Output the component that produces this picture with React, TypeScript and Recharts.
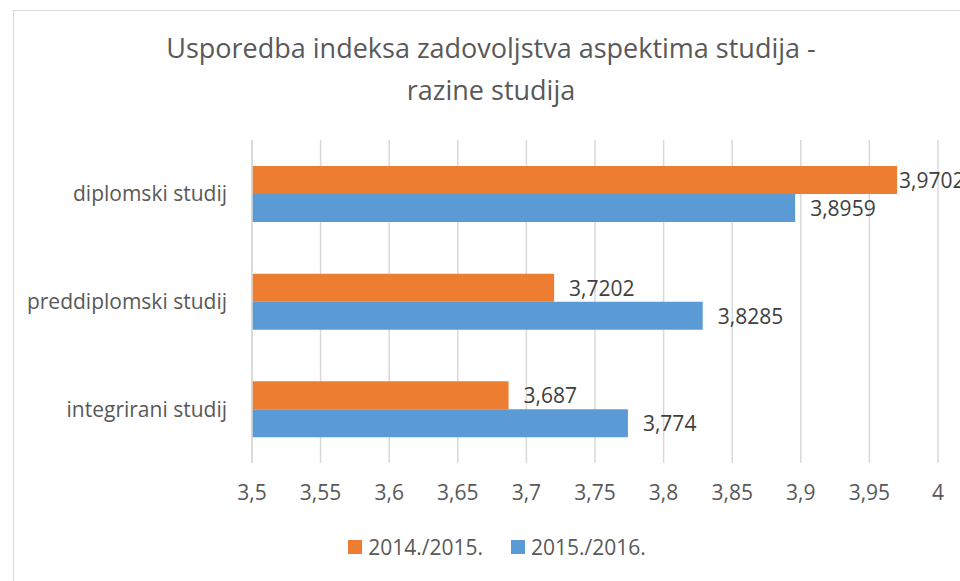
import React from "react"
import { BarChart, Bar, XAxis, YAxis, CartesianGrid, LabelList } from "recharts"

// categories top -> bottom, as in the picture
const categories = ["diplomski studij", "preddiplomski studij", "integrirani studij"]
const series2014 = [3.9702, 3.7202, 3.687]
const series2015 = [3.8959, 3.8285, 3.774]
const seriesNames = ["2014./2015.", "2015./2016."]
const seriesColors = ["#ED7D31", "#5B9BD5"]
const xTicks = [3.5, 3.55, 3.6, 3.65, 3.7, 3.75, 3.8, 3.85, 3.9, 3.95, 4]
const titleLines = ["Usporedba indeksa zadovoljstva aspektima studija -", "razine studija"]

const data = categories.map((name, i) => ({
  name,
  s2014: series2014[i],
  s2015: series2015[i],
}))

const FONT = "'Open Sans', sans-serif"
const TEXT = "#595959"
const GRID = "#d9d9d9"
const FS = 21

const fmt = (v: number) => String(v).replace(".", ",")

// label sits to the right of the bar, pushed back in when it would run off the chart
const renderValue = (props: any) => {
  const { x, y, width, height, value } = props
  const lx = Math.min(Number(x) + Number(width) + 15, 899)
  return (
    <text
      x={lx}
      y={Number(y) + Number(height) / 2}
      dominantBaseline="central"
      fill="#404040"
      fontSize={FS}
      fontFamily={FONT}
    >
      {fmt(value)}
    </text>
  )
}

export default function App() {
  return (
    <div
      style={{
        position: "absolute",
        left: 0,
        top: 0,
        width: 960,
        height: 581,
        overflow: "hidden",
        background: "#fff",
        fontFamily: FONT,
      }}
    >
      {/* chart frame, only top/left edges visible in the crop */}
      <div
        style={{
          position: "absolute",
          left: 13,
          top: 10,
          width: 960,
          height: 600,
          borderLeft: `1px solid ${GRID}`,
          borderTop: `1px solid ${GRID}`,
        }}
      />
      <div
        style={{
          position: "absolute",
          left: 0,
          top: 27,
          width: 982,
          textAlign: "center",
          fontSize: 27,
          lineHeight: "42px",
          color: TEXT,
        }}
      >
        {titleLines.map((t) => (
          <div key={t}>{t}</div>
        ))}
      </div>
      <div style={{ position: "absolute", left: 0, top: 0 }}>
        <BarChart
          width={960}
          height={581}
          data={data}
          layout="vertical"
          margin={{ top: 140, right: 22, bottom: 68, left: 0 }}
          barGap={0}
          barSize={28}
        >
          <CartesianGrid horizontal={false} stroke={GRID} strokeWidth={1.5} />
          <XAxis
            type="number"
            domain={[3.5, 4]}
            ticks={xTicks}
            tickFormatter={fmt}
            axisLine={false}
            tickLine={false}
            tickSize={0}
            tickMargin={22}
            height={50}
            interval={0}
            tick={{ fill: TEXT, fontSize: FS, fontFamily: FONT }}
          />
          <YAxis
            type="category"
            dataKey="name"
            width={252}
            axisLine={{ stroke: GRID, strokeWidth: 1.5 }}
            tickLine={false}
            tickSize={0}
            tickMargin={25}
            tick={{ fill: TEXT, fontSize: FS, fontFamily: FONT }}
          />
          <Bar dataKey="s2014" fill={seriesColors[0]} isAnimationActive={false}>
            <LabelList dataKey="s2014" content={renderValue} />
          </Bar>
          <Bar dataKey="s2015" fill={seriesColors[1]} isAnimationActive={false}>
            <LabelList dataKey="s2015" content={renderValue} />
          </Bar>
        </BarChart>
      </div>
      <div
        style={{
          position: "absolute",
          left: 0,
          top: 533,
          width: 994,
          display: "flex",
          justifyContent: "center",
          gap: 28,
          fontSize: FS,
          color: TEXT,
          lineHeight: "28px",
        }}
      >
        {seriesNames.map((n, i) => (
          <div key={n} style={{ display: "flex", alignItems: "center" }}>
            <span
              style={{
                display: "inline-block",
                width: 14,
                height: 14,
                background: seriesColors[i],
                marginRight: 6,
              }}
            />
            {n}
          </div>
        ))}
      </div>
    </div>
  )
}
